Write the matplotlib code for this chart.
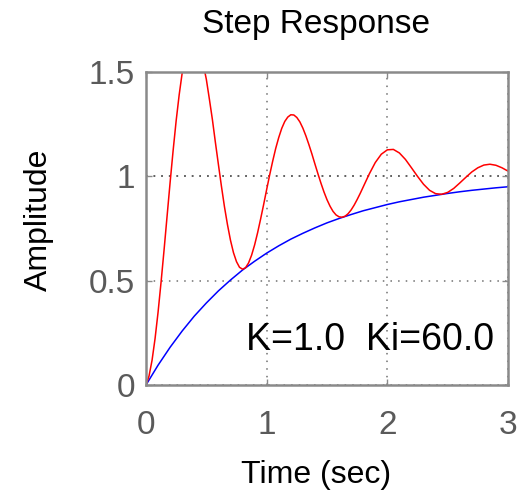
import numpy as np
import matplotlib
matplotlib.use('Agg')
import matplotlib.pyplot as plt

# time samples (sec) and responses
t_red = [0.000, 0.025, 0.050, 0.075, 0.100, 0.125, 0.150, 0.175, 0.200, 0.225,
         0.250, 0.275, 0.300, 0.350, 0.400, 0.450, 0.500, 0.525, 0.550, 0.575,
         0.600, 0.625, 0.650, 0.675, 0.700, 0.725, 0.750, 0.775, 0.800, 0.825,
         0.850, 0.875, 0.900, 0.925, 0.950, 0.975, 1.000, 1.025, 1.050, 1.075,
         1.100, 1.125, 1.150, 1.175, 1.200, 1.225, 1.250, 1.275, 1.300, 1.325,
         1.350, 1.375, 1.400, 1.425, 1.450, 1.475, 1.500, 1.525, 1.550, 1.575,
         1.600, 1.625, 1.650, 1.675, 1.700, 1.725, 1.750, 1.775, 1.800, 1.850,
         1.900, 1.950, 2.000, 2.050, 2.100, 2.150, 2.200, 2.250, 2.300, 2.350,
         2.400, 2.450, 2.500, 2.550, 2.600, 2.650, 2.700, 2.750, 2.800, 2.850,
         2.900, 2.950, 3.000]
y_red = [0.000, 0.043, 0.118, 0.222, 0.349, 0.494, 0.649, 0.811, 0.972, 1.125,
         1.267, 1.391, 1.496, 1.634, 1.669, 1.606, 1.465, 1.371, 1.273, 1.163,
         1.057, 0.953, 0.855, 0.769, 0.694, 0.634, 0.591, 0.564, 0.555, 0.562,
         0.585, 0.622, 0.671, 0.730, 0.796, 0.865, 0.937, 1.007, 1.073, 1.134,
         1.186, 1.230, 1.263, 1.284, 1.295, 1.294, 1.282, 1.261, 1.231, 1.194,
         1.152, 1.107, 1.059, 1.012, 0.967, 0.925, 0.888, 0.857, 0.832, 0.815,
         0.806, 0.804, 0.809, 0.821, 0.839, 0.862, 0.889, 0.918, 0.949, 1.011,
         1.066, 1.106, 1.127, 1.129, 1.112, 1.081, 1.041, 1.000, 0.962, 0.933,
         0.917, 0.914, 0.923, 0.942, 0.968, 0.995, 1.021, 1.041, 1.054, 1.058,
         1.053, 1.041, 1.025]

t_blue = [0.0, 0.1, 0.2, 0.3, 0.4, 0.5, 0.6, 0.7, 0.8, 0.9, 1.0,
          1.1, 1.2, 1.3, 1.4, 1.5, 1.6, 1.7, 1.8, 1.9, 2.0,
          2.1, 2.2, 2.3, 2.4, 2.5, 2.6, 2.7, 2.8, 2.9, 3.0]
y_blue = [0.000, 0.095, 0.181, 0.259, 0.330, 0.393, 0.451, 0.503, 0.551, 0.593, 0.632,
          0.667, 0.699, 0.727, 0.753, 0.777, 0.798, 0.817, 0.835, 0.850, 0.865,
          0.878, 0.889, 0.900, 0.909, 0.918, 0.926, 0.933, 0.939, 0.945, 0.950]

xticks = [0, 1, 2, 3]
yticks = [0, 0.5, 1, 1.5]
ytick_labels = ['0', '0.5', '1', '1.5']

plt.rcParams['font.family'] = ['Liberation Sans', 'DejaVu Sans']

W, H = 523, 495
fig = plt.figure(figsize=(W/100, H/100), dpi=100)
ax = fig.add_axes([146/W, 1 - 385/H, (508-146)/W, (385-72)/H])

ax.plot(t_blue, y_blue, color='blue', lw=1.1)
ax.plot(t_red, y_red, color='red', lw=1.1)
ax.axhline(1.0, color='black', ls=(0, (1, 4)), lw=1.1, zorder=1)

ax.set_xlim(0, 3)
ax.set_ylim(0, 1.5)
ax.set_xticks(xticks)
ax.set_yticks(yticks)
ax.set_yticklabels(ytick_labels)
ax.grid(True, color='#707070', ls=(0, (1, 4)), lw=1.1)

grey = '#8a8a8a'
for s in ax.spines.values():
    s.set_color(grey)
    s.set_linewidth(1.8)
ax.tick_params(direction='in', length=4, width=1, color=grey,
               top=True, right=True, labelsize=24, labelcolor='#5a5a5a')
ax.tick_params(axis='x', pad=18)
ax.tick_params(axis='y', pad=8)

# axis labels and title placed in figure pixels
fig.text(316/W, 1 - 483/H, 'Time (sec)', fontsize=23, ha='center', va='baseline')
fig.text(39/W, 1 - 220/H, 'Amplitude', fontsize=23, rotation=90,
         ha='center', va='center')
fig.text(316/W, 1 - 33/H, 'Step Response', fontsize=24, ha='center', va='baseline')

ax.text(0.825, 0.168, 'K=1.0  Ki=60.0', fontsize=27, color='black')

fig.savefig('out.png', dpi=100)
